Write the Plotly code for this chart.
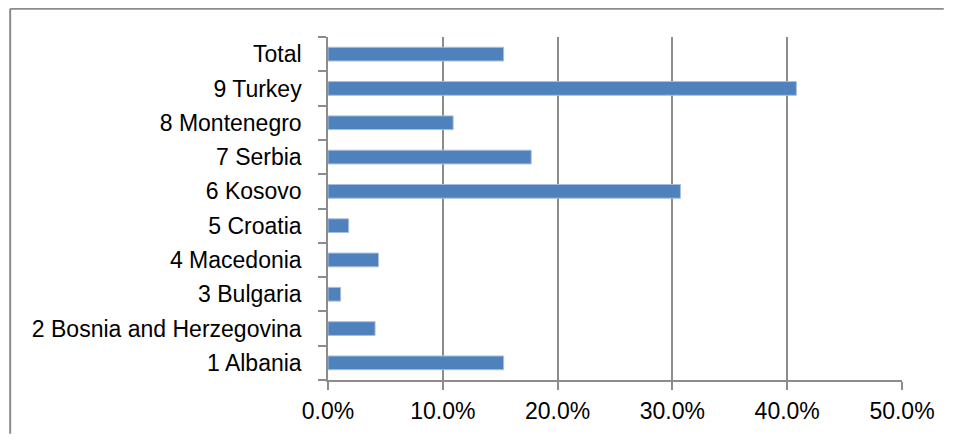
import plotly.graph_objects as go

categories = ["1 Albania", "2 Bosnia and Herzegovina", "3 Bulgaria", "4 Macedonia",
              "5 Croatia", "6 Kosovo", "7 Serbia", "8 Montenegro", "9 Turkey", "Total"]
values = [0.153, 0.041, 0.011, 0.044, 0.018, 0.307, 0.177, 0.109, 0.408, 0.153]
x_ticks = [0, 0.1, 0.2, 0.3, 0.4, 0.5]
x_tick_labels = ["0.0%", "10.0%", "20.0%", "30.0%", "40.0%", "50.0%"]

fig = go.Figure(go.Bar(
    y=categories, x=values, orientation="h",
    marker=dict(color="#4F81BD", line=dict(color="#A7BFDE", width=1)),
))

font = dict(family="Liberation Sans, Arial, sans-serif", size=23, color="#000000")

# page has an 8px body margin, so the figure is offset by (8, 8);
# keep the figure small enough that the page does not overflow
W, H = 939, 428
L, T, R, B = 320, 29, 42, 54
pw, ph = W - L - R, H - T - B

border = dict(color="#8C8C8C", width=2)
x_left = (0.5 - L) / pw
x_right = (W - L) / pw
y_top = 1 + (T - 0.5) / ph
y_bottom = -B / ph

fig.update_layout(
    width=W, height=H,
    margin=dict(l=L, r=R, t=T, b=B),
    paper_bgcolor="white", plot_bgcolor="white",
    bargap=0.6, showlegend=False,
    font=font,
    xaxis=dict(range=[0, 0.5], tickvals=x_ticks, ticktext=x_tick_labels,
               showgrid=True, gridcolor="#8C8C8C", gridwidth=1.5,
               showline=True, linecolor="#8C8C8C", linewidth=1.5,
               ticks="outside", ticklen=8, tickcolor="#8C8C8C", tickwidth=1.5,
               zeroline=False, tickfont=font, ticklabelstandoff=2, fixedrange=True),
    yaxis=dict(type="category", categoryorder="array", categoryarray=categories,
               showgrid=False, showline=True, linecolor="#8C8C8C", linewidth=1.5,
               ticks="outside", ticklen=8, tickcolor="#8C8C8C", tickwidth=1.5,
               tickson="boundaries", tickfont=font, ticklabelstandoff=20,
               fixedrange=True),
    shapes=[
        dict(type="line", xref="paper", yref="paper", x0=x_left, x1=x_right,
             y0=y_top, y1=y_top, line=border, layer="below"),
        dict(type="line", xref="paper", yref="paper", x0=x_left, x1=x_left,
             y0=y_top, y1=y_bottom, line=border, layer="below"),
    ],
)

fig.write_html("out.html")
